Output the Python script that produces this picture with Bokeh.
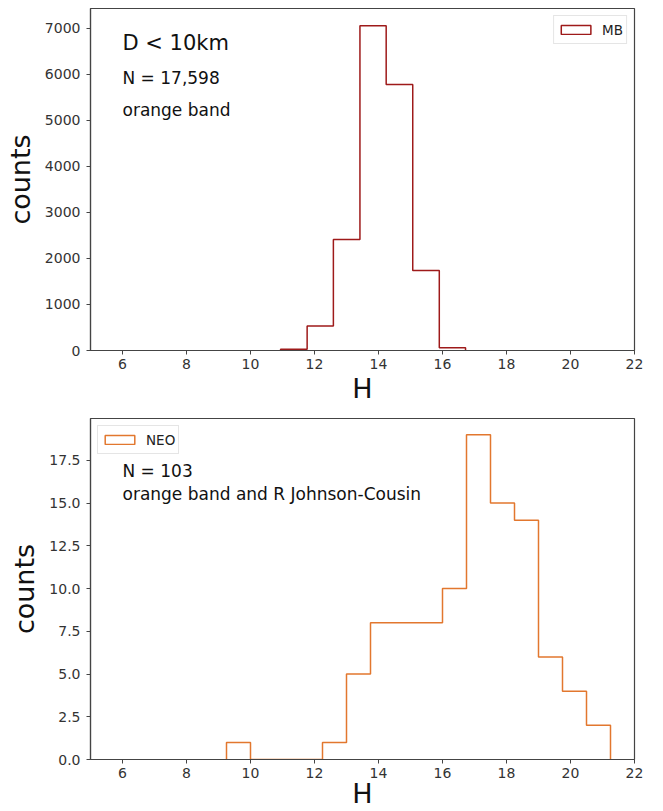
import numpy as np
from bokeh.plotting import figure
from bokeh.layouts import column
from bokeh.models import (Range1d, FixedTicker, PrintfTickFormatter, Label,
                          Legend, LegendItem, ColumnDataSource)
from bokeh.embed import file_html
from bokeh.resources import INLINE

# ---------------- data ----------------
x_ticks = [6, 8, 10, 12, 14, 16, 18, 20, 22]

mb_edges = [10.94, 11.77, 12.59, 13.42, 14.24, 15.07, 15.90, 16.72]
mb_counts = [25, 530, 2410, 7055, 5780, 1740, 58]
mb_yticks = [0, 1000, 2000, 3000, 4000, 5000, 6000, 7000]

neo_edges = [9.25, 10.0, 10.75, 11.5, 12.25, 13.0, 13.75, 14.5, 15.25,
             16.0, 16.75, 17.5, 18.25, 19.0, 19.75, 20.5, 21.25]
neo_counts = [1, 0, 0, 0, 1, 5, 8, 8, 8, 10, 19, 15, 14, 6, 4, 2]
neo_yticks = [0.0, 2.5, 5.0, 7.5, 10.0, 12.5, 15.0, 17.5]

MB_COLOR = "#9e1a1a"
NEO_COLOR = "#e2772e"
FRAME = "#444444"
FONT = "DejaVu Sans"


def outline(edges, counts):
    xs = [edges[0]]
    ys = [0]
    for i, c in enumerate(counts):
        xs += [edges[i], edges[i + 1]]
        ys += [c, c]
    xs.append(edges[-1])
    ys.append(0)
    return xs, ys


def panel(height, btop, bbottom, ymax, yticks, fmt, label_standoff):
    p = figure(width=663, height=height, output_backend="svg",
               toolbar_location=None, x_range=Range1d(5, 22),
               y_range=Range1d(0, ymax),
               min_border_left=90, min_border_right=29,
               min_border_top=btop, min_border_bottom=bbottom)
    p.grid.visible = False
    p.outline_line_color = FRAME
    p.outline_line_width = 1.2
    p.background_fill_color = "white"
    p.border_fill_color = "white"
    p.xaxis.ticker = FixedTicker(ticks=x_ticks)
    p.yaxis.ticker = FixedTicker(ticks=yticks)
    if fmt:
        p.yaxis.formatter = PrintfTickFormatter(format=fmt)
    for ax in (p.xaxis, p.yaxis):
        ax.axis_line_color = FRAME
        ax.axis_line_width = 1.2
        ax.major_tick_line_color = FRAME
        ax.major_tick_out = 4
        ax.major_tick_in = 0
        ax.minor_tick_line_color = None
        ax.major_label_text_font = FONT
        ax.major_label_text_font_size = "14px"
        ax.major_label_text_color = "#333333"
        ax.axis_label_text_font = FONT
        ax.axis_label_text_font_size = "27px"
        ax.axis_label_text_font_style = "normal"
        ax.axis_label_text_color = "#111111"
    p.xaxis.axis_label = "H"
    p.yaxis.axis_label = "counts"
    p.xaxis.major_label_standoff = 4
    p.yaxis.major_label_standoff = 6
    p.xaxis.axis_label_standoff = label_standoff
    p.yaxis.axis_label_standoff = 6
    return p


def style_legend(lg):
    lg.margin = 7
    lg.padding = 3
    lg.spacing = 0
    lg.glyph_width = 37
    lg.glyph_height = 11
    lg.label_height = 21
    lg.label_standoff = 8
    lg.label_text_font = FONT
    lg.label_text_font_size = "13.5px"
    lg.label_text_color = "#222222"
    lg.border_line_color = "#cccccc"
    lg.border_line_width = 1
    lg.background_fill_color = "white"
    lg.background_fill_alpha = 0.9
    lg.inactive_fill_alpha = 0.0


# ---------------- top panel: MB ----------------
p1 = panel(406, 8, 56, 7430, mb_yticks, None, 1)
xs, ys = outline(mb_edges, mb_counts)
p1.line(xs, ys, line_color=MB_COLOR, line_width=1.5)
mb_src = ColumnDataSource(dict(left=mb_edges[:-1], right=mb_edges[1:],
                               top=mb_counts, bottom=[0] * len(mb_counts)))
leg1_r = p1.quad(left="left", right="right", top="top", bottom="bottom",
                 source=mb_src, fill_color=None, line_color=MB_COLOR,
                 line_width=1.5)
leg1_r.visible = False
leg1 = Legend(items=[LegendItem(label="MB", renderers=[leg1_r])],
              location="top_right")
style_legend(leg1)
p1.add_layout(leg1)

p1.add_layout(Label(x=6, y=6670, text="D < 10km", text_font=FONT,
                    text_font_size="21px", text_baseline="middle",
                    text_color="#111111"))
p1.add_layout(Label(x=6, y=5930, text="N = 17,598", text_font=FONT,
                    text_font_size="17px", text_baseline="middle",
                    text_color="#111111"))
p1.add_layout(Label(x=6, y=5215, text="orange band", text_font=FONT,
                    text_font_size="17px", text_baseline="middle",
                    text_color="#111111"))

# ---------------- bottom panel: NEO ----------------
p2 = panel(405, 12, 52, 19.95, neo_yticks, "%.1f", -3)
xs2, ys2 = outline(neo_edges, neo_counts)
p2.line(xs2, ys2, line_color=NEO_COLOR, line_width=1.5)
neo_src = ColumnDataSource(dict(left=neo_edges[:-1], right=neo_edges[1:],
                                top=neo_counts,
                                bottom=[0] * len(neo_counts)))
leg2_r = p2.quad(left="left", right="right", top="top", bottom="bottom",
                 source=neo_src, fill_color=None, line_color=NEO_COLOR,
                 line_width=1.5)
leg2_r.visible = False
leg2 = Legend(items=[LegendItem(label="NEO", renderers=[leg2_r])],
              location="top_left")
style_legend(leg2)
p2.add_layout(leg2)

p2.add_layout(Label(x=6, y=16.9, text="N = 103", text_font=FONT,
                    text_font_size="17px", text_baseline="middle",
                    text_color="#111111"))
p2.add_layout(Label(x=6, y=15.55, text="orange band and R Johnson-Cousin",
                    text_font=FONT, text_font_size="17px",
                    text_baseline="middle", text_color="#111111"))

layout = column(p1, p2, spacing=0)
open("out.html", "w").write(file_html(layout, INLINE))
